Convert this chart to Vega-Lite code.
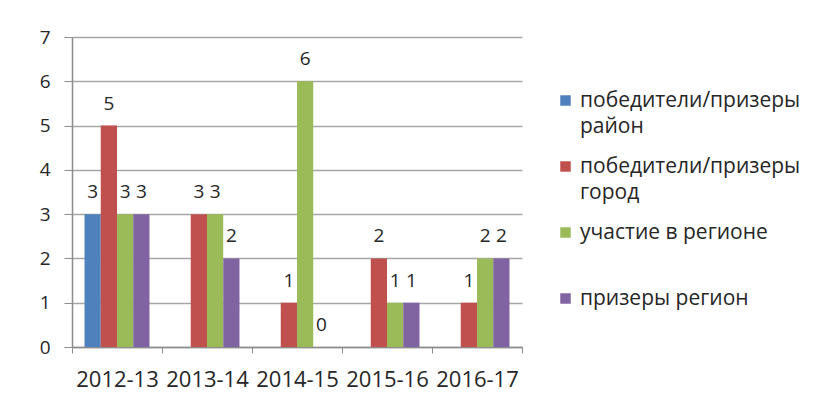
{
  "$schema": "https://vega.github.io/schema/vega-lite/v6.json",
  "autosize": "none",
  "width": 450,
  "height": 310,
  "padding": {"left": 72, "top": 37, "right": 305, "bottom": 69},
  "background": "white",
  "config": {
    "font": "Open Sans",
    "view": {"stroke": null},
    "axis": {"labelColor": "#262626", "domainColor": "#8C8C8C", "tickColor": "#8C8C8C", "gridColor": "#A6A6A6", "labelFont": "Open Sans"},
    "legend": {"labelFont": "Open Sans"}
  },
  "data": {
    "values": [
      {"year": "2012-13", "series": "победители/призеры район", "value": 3},
      {"year": "2012-13", "series": "победители/призеры город", "value": 5},
      {"year": "2012-13", "series": "участие в регионе", "value": 3},
      {"year": "2012-13", "series": "призеры регион", "value": 3},
      {"year": "2013-14", "series": "победители/призеры город", "value": 3},
      {"year": "2013-14", "series": "участие в регионе", "value": 3},
      {"year": "2013-14", "series": "призеры регион", "value": 2},
      {"year": "2014-15", "series": "победители/призеры город", "value": 1},
      {"year": "2014-15", "series": "участие в регионе", "value": 6},
      {"year": "2014-15", "series": "призеры регион", "value": 0},
      {"year": "2015-16", "series": "победители/призеры город", "value": 2},
      {"year": "2015-16", "series": "участие в регионе", "value": 1},
      {"year": "2015-16", "series": "призеры регион", "value": 1},
      {"year": "2016-17", "series": "победители/призеры город", "value": 1},
      {"year": "2016-17", "series": "участие в регионе", "value": 2},
      {"year": "2016-17", "series": "призеры регион", "value": 2}
    ]
  },
  "encoding": {
    "x": {
      "field": "year", "type": "nominal", "title": null,
      "scale": {"paddingInner": 0, "paddingOuter": 0},
      "axis": {"labelAngle": 0, "labelFontSize": 22, "tickBand": "extent", "tickSize": 6, "labelPadding": 16, "domainWidth": 1.5}
    },
    "xOffset": {
      "field": "series", "type": "nominal",
      "sort": ["победители/призеры район", "победители/призеры город", "участие в регионе", "призеры регион"],
      "scale": {"paddingInner": 0, "paddingOuter": 0.77}
    },
    "y": {
      "field": "value", "type": "quantitative", "title": null,
      "scale": {"domain": [0, 7], "nice": false},
      "axis": {"values": [0, 1, 2, 3, 4, 5, 6, 7], "labelFontSize": 19, "tickSize": 8, "labelPadding": 14, "grid": true, "gridWidth": 1.5, "domain": true, "domainWidth": 1.5}
    }
  },
  "layer": [
    {
      "mark": {"type": "bar"},
      "encoding": {
        "color": {
          "field": "series", "type": "nominal",
          "sort": ["победители/призеры район", "победители/призеры город", "участие в регионе", "призеры регион"],
          "scale": {"domain": ["победители/призеры район", "победители/призеры город", "участие в регионе", "призеры регион"], "range": ["#4F81BD", "#C0504D", "#9BBB59", "#8064A2"]},
          "legend": {
            "title": null,
            "orient": "none",
            "legendX": 483,
            "legendY": 53,
            "symbolType": "square",
            "symbolSize": 110,
            "symbolStrokeWidth": 0,
            "labelFontSize": 21,
            "labelColor": "#262626",
            "labelLimit": 400,
            "labelOffset": 4,
            "rowPadding": 18,
            "labelBaseline": "middle",
            "labelExpr": "datum.label == 'победители/призеры район' ? ['победители/призеры', 'район'] : datum.label == 'победители/призеры город' ? ['победители/призеры', 'город'] : [datum.label, ' ']",
            "encode": {"labels": {"update": {"lineHeight": {"value": 26}}}}
          }
        }
      }
    },
    {
      "mark": {"type": "text", "baseline": "alphabetic", "dy": -16, "fontSize": 19, "color": "#262626", "font": "Open Sans"},
      "encoding": {"text": {"field": "value", "type": "quantitative"}}
    }
  ]
}
